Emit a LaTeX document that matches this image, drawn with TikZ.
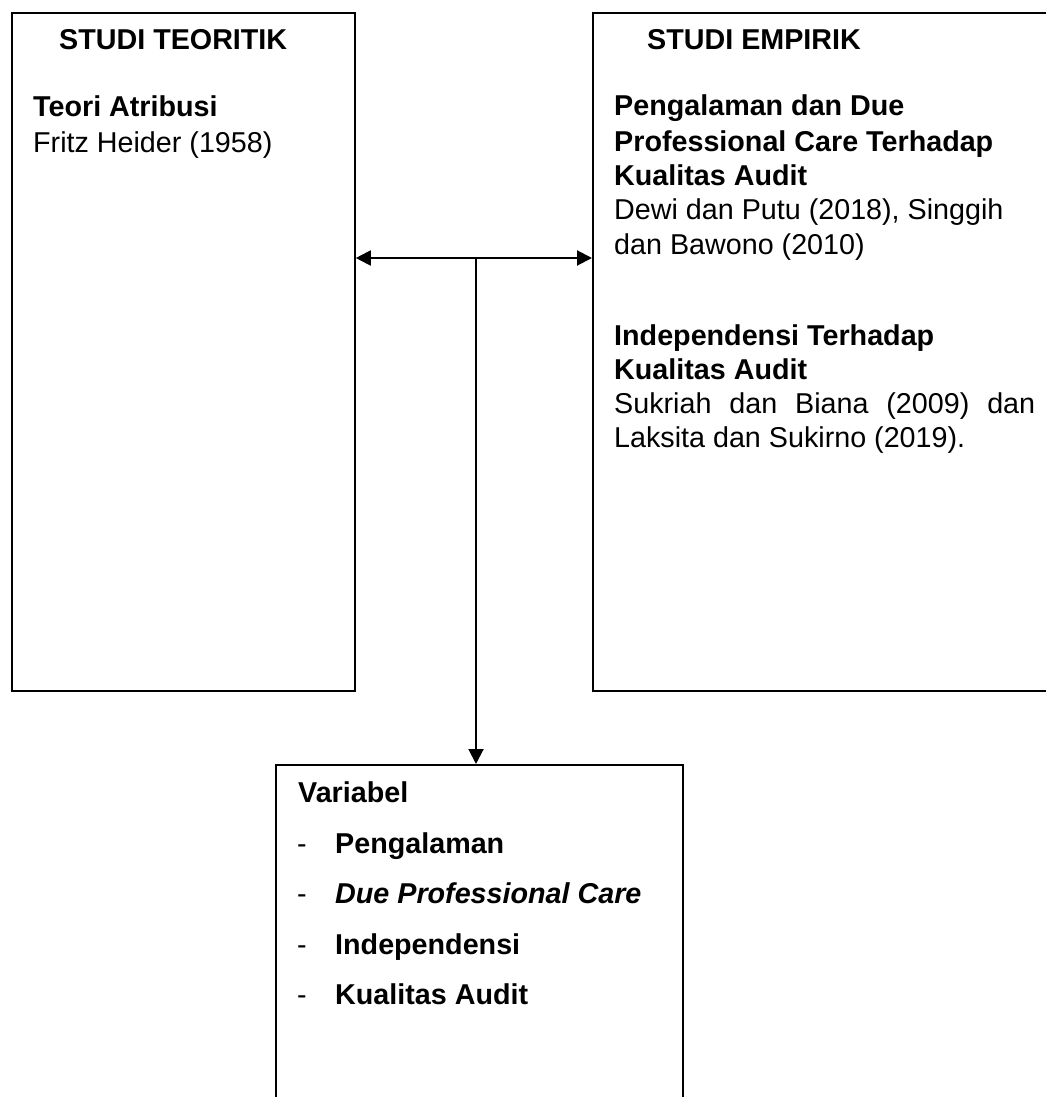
\documentclass[tikz,border=0pt]{standalone}
\usepackage{fontspec}
\setmainfont{Liberation Sans}
\usetikzlibrary{arrows.meta}
\begin{document}
\begin{tikzpicture}[x=1pt,y=-1pt,
  >={Triangle[length=15pt,width=15pt]},
  box/.style={draw, line width=1.8pt, inner sep=0pt, anchor=north west},
  txt/.style={anchor=base west, inner sep=0pt, font=\fontsize{28.7}{34}\selectfont},
  btxt/.style={anchor=base west, inner sep=0pt, font=\fontsize{28.7}{34}\selectfont\bfseries},
  conn/.style={line width=2pt}]
\useasboundingbox (0,0) rectangle (1045,1097);
% boxes
\node[box, minimum width=343pt, minimum height=678pt] (L) at (11,12) {};
\node[box, minimum width=470pt, minimum height=678pt] (R) at (592,12) {};
\node[box, minimum width=407pt, minimum height=400pt] (B) at (275,764) {};
% left box text
\node[btxt] (lh) at (59,50) {STUDI TEORITIK};
\node[btxt] (l1) at (33,117) {Teori Atribusi};
\node[txt] (l2) at (33,152) {Fritz Heider (1958)};
% right box text
\node[btxt] (rh) at (647,50) {STUDI EMPIRIK};
\node[btxt] (r1) at (614,116) {Pengalaman dan Due};
\node[btxt] (r2) at (614,151) {Professional Care Terhadap};
\node[btxt] (r3) at (614,185) {Kualitas Audit};
\node[txt] (r4) at (614,219) {Dewi dan Putu (2018), Singgih};
\node[txt] (r5) at (614,254) {dan Bawono (2010)};
\node[btxt] (r6) at (614,345) {Independensi Terhadap};
\node[btxt] (r7) at (614,379) {Kualitas Audit};
\node[txt] (r8) at (614,413) {\makebox[421pt][s]{Sukriah dan Biana (2009) dan}};
\node[txt] (r9) at (614,447) {Laksita dan Sukirno (2019).};
% bottom box text
\node[btxt] (bh) at (298,802) {Variabel};
\node[txt] (d1) at (297,853) {-};
\node[btxt] (b1) at (335,853) {Pengalaman};
\node[txt] (d2) at (297,903) {-};
\node[btxt] (b2) at (335,903) {\itshape Due Professional Care};
\node[txt] (d3) at (297,954) {-};
\node[btxt] (b3) at (335,954) {Independensi};
\node[txt] (d4) at (297,1004) {-};
\node[btxt] (b4) at (335,1004) {Kualitas Audit};
% connectors
\coordinate (J) at (476,258);
\draw[conn, <->] (L.east |- J) -- (R.west |- J);
\draw[conn, ->] (J) -- (B.north -| J);
\end{tikzpicture}
\end{document}
